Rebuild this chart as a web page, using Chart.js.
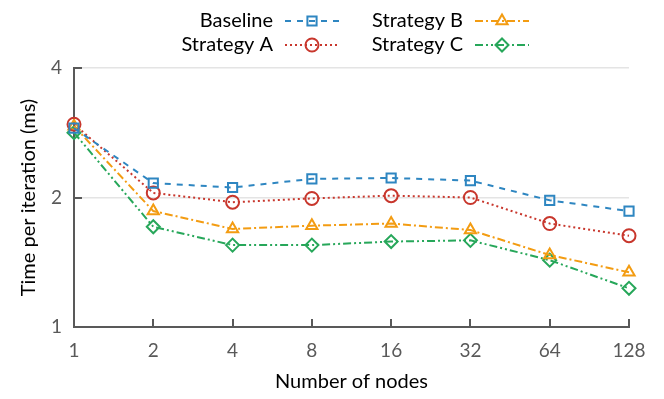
<!DOCTYPE html>
<html>
<head>
<meta charset="utf-8">
<script src="https://cdn.jsdelivr.net/npm/chart.js@4/dist/chart.umd.min.js"></script>
<style>
  html, body { margin: 0; padding: 0; background: #fff; }
  #wrap { width: 664px; height: 399px; }
</style>
</head>
<body>
<div id="wrap"><canvas id="c" width="664" height="399"></canvas></div>
<script>
// categories and series (time per iteration, ms)
const nodes = ["1", "2", "4", "8", "16", "32", "64", "128"];
const baseline  = [2.90, 2.16, 2.11, 2.21, 2.22, 2.19, 1.97, 1.86];
const strategyA = [2.96, 2.05, 1.95, 1.99, 2.02, 2.00, 1.74, 1.63];
const strategyB = [2.93, 1.86, 1.69, 1.72, 1.74, 1.68, 1.47, 1.34];
const strategyC = [2.83, 1.71, 1.55, 1.55, 1.58, 1.59, 1.43, 1.23];
const yTicks = [1, 2, 4];

const FONT = "Lato, 'DejaVu Sans', sans-serif";
const AXIS = "#595959";

function serie(label, data, color, dash, style, rotation) {
    return {
        label: label, data: data,
        borderColor: color, borderWidth: 2, borderDash: dash,
        pointStyle: style, pointRotation: rotation || 0,
        pointRadius: 6.5, pointBorderWidth: 2,
        pointBackgroundColor: "rgba(0,0,0,0)", pointBorderColor: color,
        tension: 0
    };
}

const datasets = [
    serie("Baseline", baseline, "#2e86c1", [6, 6], "rect"),
    serie("Strategy A", strategyA, "#c8372d", [2, 3], "circle"),
    serie("Strategy B", strategyB, "#f39c12", [8, 3, 2, 3], "triangle"),
    serie("Strategy C", strategyC, "#27a75a", [8, 3, 2, 3, 2, 3], "rectRot")
];

// small inward ticks on both axes, gnuplot style
const innerTicks = {
    id: "innerTicks",
    afterDatasetsDraw(chart) {
        const ctx = chart.ctx, a = chart.chartArea;
        const x = chart.scales.x, y = chart.scales.y;
        ctx.save();
        ctx.strokeStyle = AXIS;
        ctx.lineWidth = 2;
        ctx.setLineDash([]);
        ctx.beginPath();
        yTicks.forEach(v => {
            const py = Math.round(y.getPixelForValue(v));
            ctx.moveTo(a.left, py); ctx.lineTo(a.left + 8, py);
        });
        nodes.forEach((n, i) => {
            const px = Math.round(x.getPixelForValue(i));
            ctx.moveTo(px, a.bottom); ctx.lineTo(px, a.bottom - 8);
        });
        ctx.stroke();
        ctx.restore();
    }
};

// legend: label on the left, line sample with marker on the right
const sideLegend = {
    id: "sideLegend",
    afterDraw(chart) {
        const ctx = chart.ctx;
        const cols = [273, 463];
        const rows = [21, 45];
        ctx.save();
        ctx.font = "20px " + FONT;
        ctx.textAlign = "right";
        ctx.textBaseline = "middle";
        chart.data.datasets.forEach((ds, i) => {
            const tx = cols[Math.floor(i / 2)], ty = rows[i % 2];
            ctx.fillStyle = "#000";
            ctx.fillText(ds.label, tx, ty);
            const x0 = tx + 12, x1 = tx + 66;
            ctx.strokeStyle = ds.borderColor;
            ctx.lineWidth = 2;
            ctx.setLineDash(ds.borderDash);
            ctx.beginPath();
            ctx.moveTo(x0, ty); ctx.lineTo(x1, ty);
            ctx.stroke();
            ctx.setLineDash([]);
            ctx.fillStyle = "rgba(0,0,0,0)";
            Chart.helpers.drawPoint(ctx, {
                pointStyle: ds.pointStyle, rotation: ds.pointRotation,
                radius: 6.5, borderWidth: 2
            }, (x0 + x1) / 2, ty);
        });
        ctx.restore();
    }
};

new Chart(document.getElementById("c"), {
    type: "line",
    data: { labels: nodes, datasets: datasets },
    plugins: [innerTicks, sideLegend],
    options: {
        responsive: false,
        animation: false,
        layout: { padding: { top: 68, right: 35, bottom: 0, left: 0 } },
        plugins: { legend: { display: false }, tooltip: { enabled: false } },
        scales: {
            x: {
                type: "category",
                offset: false,
                afterFit(s) { s.height = 72; },
                grid: { display: false, drawTicks: false },
                border: { color: AXIS, width: 2 },
                ticks: { color: AXIS, font: { family: FONT, size: 19 }, padding: 12, maxRotation: 0 },
                title: {
                    display: true, text: "Number of nodes", color: "#000",
                    font: { family: FONT, size: 20 }, padding: { top: 8, bottom: 5 }
                }
            },
            y: {
                type: "logarithmic",
                min: 1, max: 4,
                afterFit(s) { s.width = 74; },
                afterBuildTicks(s) { s.ticks = yTicks.map(v => ({ value: v })); },
                grid: { color: "#e4e4e4", lineWidth: 1.5, drawTicks: false },
                border: { color: AXIS, width: 2 },
                ticks: {
                    color: AXIS, font: { family: FONT, size: 19 }, padding: 12,
                    callback: v => String(v)
                },
                title: {
                    display: true, text: "Time per iteration (ms)", color: "#000",
                    font: { family: FONT, size: 20 }, padding: { top: 17, bottom: 0 }
                }
            }
        }
    }
});
</script>
</body>
</html>
